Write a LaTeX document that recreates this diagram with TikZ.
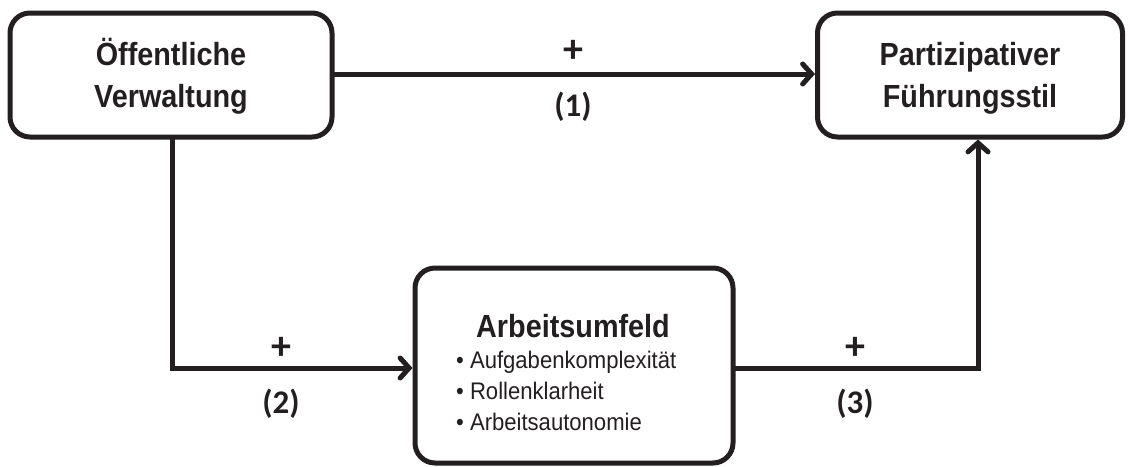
\documentclass[tikz,border=0pt]{standalone}
\usepackage{fontspec}
\setmainfont{Liberation Sans}
\newfontfamily\lblfont{Carlito}
\usetikzlibrary{arrows.meta}
\definecolor{ink}{HTML}{231F20}
\begin{document}
\begin{tikzpicture}[x=1pt,y=-1pt,
  box/.style={draw=ink,line width=5pt,rounded corners=20pt,inner sep=0pt},
  ttl/.style={font=\fontsize{32}{42}\selectfont\bfseries,text=ink,align=center,xscale=0.9},
  lbl/.style={font=\lblfont\fontsize{33}{33}\selectfont\bfseries,text=ink},
  plus/.style={font=\lblfont\fontsize{40}{40}\selectfont\bfseries,text=ink},
  conn/.style={draw=ink,line width=5pt,line cap=round,line join=miter,-{Straight Barb[length=9pt,width=20pt,line cap=round]}}]
\useasboundingbox (0,0) rectangle (1130,466);
\node[box,minimum width=322pt,minimum height=124pt] (ov) at (171,75) {};
\node[ttl,anchor=base] (ovt) at (171,107) {Öffentliche\\Verwaltung};
\node[box,minimum width=305pt,minimum height=124pt] (pf) at (970,75) {};
\node[ttl,anchor=base] (pft) at (970,107) {Partizipativer\\Führungsstil};
\node[box,minimum width=318pt,minimum height=195pt] (au) at (574,365.5) {};
\node[ttl,anchor=base] (aut) at (573,337) {Arbeitsumfeld};
\node[font=\fontsize{24}{31}\selectfont,text=ink,align=left,anchor=base west,inner sep=0pt,xscale=0.92] (aul) at (456,430) {• Aufgabenkomplexität\\• Rollenklarheit\\• Arbeitsautonomie};
\coordinate (c2) at (172,368);
\coordinate (c3) at (978,368);
\draw[conn] (ov.east |- 0,74) -- (pf.west |- 0,74);
\draw[conn] (ov.south -| c2) -- (c2) -- (au.west |- c2);
\draw[conn] (au.east |- c3) -- (c3) -- (pf.south -| c3);
\node[plus] (p1) at (573,51) {+};
\node[lbl] (n1) at (573,107) {(1)};
\node[plus] (p2) at (281,348) {+};
\node[lbl] (n2) at (281,404) {(2)};
\node[plus] (p3) at (855,348) {+};
\node[lbl] (n3) at (855,404) {(3)};
\end{tikzpicture}
\end{document}
